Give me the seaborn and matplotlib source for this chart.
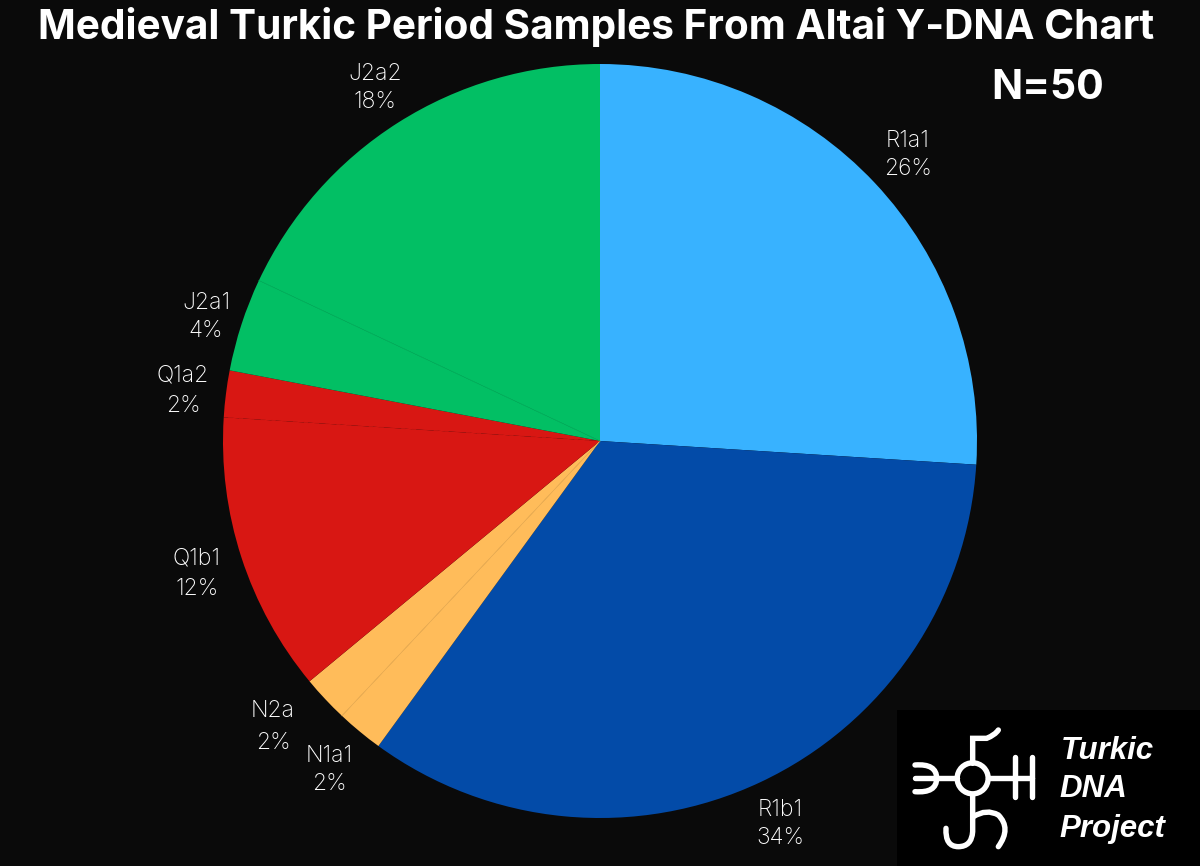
import matplotlib
matplotlib.use("Agg")
import matplotlib.pyplot as plt
from matplotlib.patches import PathPatch, Circle, Rectangle
from matplotlib.path import Path
import numpy as np
import seaborn as sns

# ---- data ----
TITLE = "Medieval Turkic Period Samples From Altai Y-DNA Chart"
N_TEXT = "N=50"
haplogroups = ["R1a1", "R1b1", "N1a1", "N2a", "Q1b1", "Q1a2", "J2a1", "J2a2"]
percent = [26, 34, 2, 2, 12, 2, 4, 18]
slice_hex = ["#38B2FF", "#034BA8", "#FFBC5A", "#FFBC5A", "#D81713", "#D81713", "#02BF64", "#02BF64"]
LOGO_WORDS = ["Turkic", "DNA", "Project"]

# ---- label anchors in reference pixels, and line spacing ----
label_px = {
    "R1a1": (908, 155), "R1b1": (780, 824), "N1a1": (329, 770), "N2a": (273, 727),
    "Q1b1": (197, 574), "Q1a2": (183, 391), "J2a1": (206, 317), "J2a2": (375, 88),
}
label_spacing = {"N2a": 1.62, "Q1a2": 1.52, "Q1b1": 1.48}
H = 866

sns.set_theme(style="white")
plt.rcParams["font.family"] = ["Inter", "DejaVu Sans"]
BG = "#0A0A0A"
fig = plt.figure(figsize=(12, 8.66), dpi=100, facecolor=BG)
ax = fig.add_axes([0, 0, 1, 1], facecolor=BG)

palette = sns.color_palette(slice_hex)
wedges, _ = ax.pie(percent, colors=palette, startangle=90, counterclock=False,
                   center=(600, H - 441), radius=377, frame=False,
                   wedgeprops={"linewidth": 0})
ax.set_xlim(0, 1200)
ax.set_ylim(0, H)
ax.set_aspect("equal")
ax.axis("off")

# faint seams between same-coloured neighbours
for i in range(1, len(wedges)):
    w_prev, w = wedges[i - 1], wedges[i]
    if slice_hex[i] == slice_hex[i - 1]:
        shared = set(np.round([w_prev.theta1, w_prev.theta2], 6)) & set(np.round([w.theta1, w.theta2], 6))
        ang = np.deg2rad(shared.pop())
        dark = tuple(0.95 * c for c in w.get_facecolor()[:3])
        style = (0, (5, 8)) if slice_hex[i] == "#D81713" else "-"
        ax.plot([600, 600 + 377 * np.cos(ang)], [H - 441, H - 441 + 377 * np.sin(ang)],
                color=dark, lw=0.6, ls=style, zorder=3)

for name, p in zip(haplogroups, percent):
    x, y = label_px[name]
    ax.text(x, H - y, f"{name}\n{p}%", color="white", fontsize=16.5, fontweight="light",
            ha="center", va="center", linespacing=label_spacing.get(name, 1.33))

ax.text(596, H - 27, TITLE, color="white", fontsize=29.2, fontweight="bold", ha="center", va="center")
ax.text(1048, H - 88, N_TEXT, color="white", fontsize=29.5, fontweight="bold", ha="center", va="center")

# ---- logo panel ----
ax.add_patch(Rectangle((897, 0), 303, H - 710, facecolor="black", edgecolor="none", zorder=4))
def zp(x, y):
    return (890 + x / 3, H - (700 + y / 3))
def stroke(pts, codes):
    path = Path([zp(*p) for p in pts], codes)
    ax.add_patch(PathPatch(path, fill=False, edgecolor="white", lw=3.9, capstyle="round", zorder=5))
M, L, C = Path.MOVETO, Path.LINETO, Path.CURVE3
ax.add_patch(Circle(zp(248, 235), 15.5, fill=False, edgecolor="white", lw=3.9, zorder=5))
# right fork
stroke([(295, 235), (425, 235)], [M, L])
stroke([(375, 172), (375, 290)], [M, L])
stroke([(425, 172), (425, 290)], [M, L])
# left Э shape
stroke([(200, 235), (75, 235)], [M, L])
stroke([(75, 195), (140, 190), (140, 235), (140, 280), (75, 275)], [M, C, C, C, C])
# top hook
stroke([(248, 190), (248, 115), (290, 115), (315, 105), (325, 90)], [M, L, L, C, C])
# bottom hook
stroke([(248, 285), (248, 395), (245, 440), (205, 440), (165, 440), (168, 385)], [M, L, C, C, C, C])
stroke([(250, 350), (290, 325), (325, 345), (365, 385), (325, 440)], [M, C, C, C, C])

for word, x, y in zip(LOGO_WORDS, [1061, 1059, 1059], [751, 789, 829]):
    ax.text(x, H - y, word, color="white", fontsize=22.5, fontstyle="italic", fontweight="bold",
            family=["Liberation Sans", "DejaVu Sans"], ha="left", va="center", zorder=5)

fig.savefig("out.png", dpi=100, facecolor=BG)
